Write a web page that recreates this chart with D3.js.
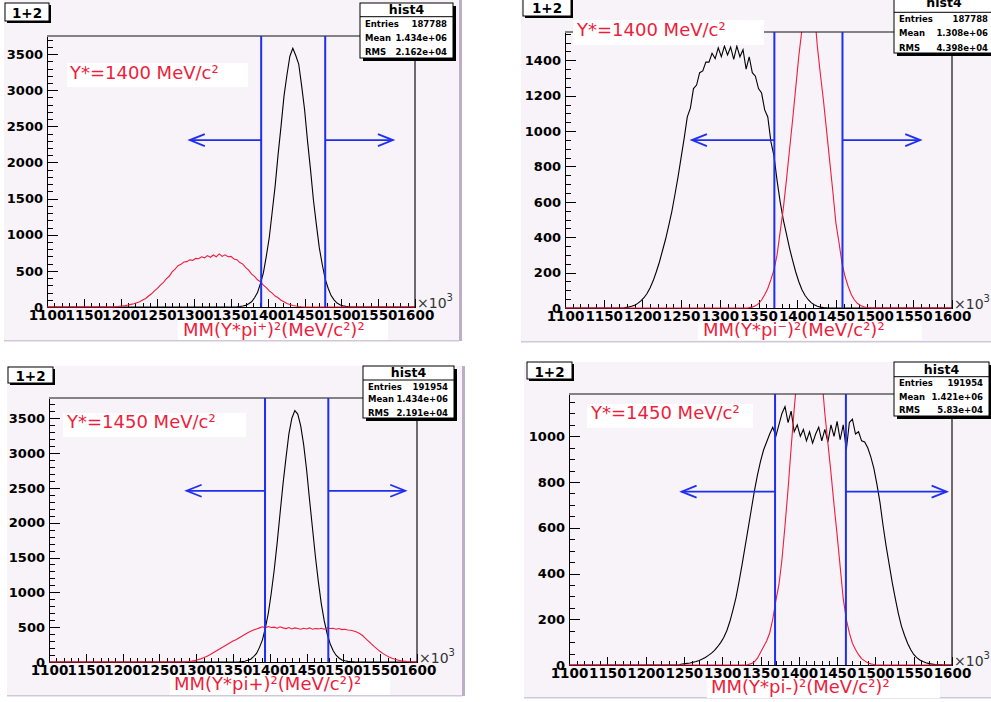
<!DOCTYPE html>
<html>
<head>
<meta charset="utf-8">
<script src="https://cdn.jsdelivr.net/npm/d3@7"></script>
<style>
    body { margin: 0; background: #ffffff; }
    svg { display: block; }
    .ylab text { font: bold 13px "DejaVu Sans", sans-serif; fill: #000; }
    .xlab text { font: bold 13.5px "DejaVu Sans", sans-serif; fill: #000; }
</style>
</head>
<body>
<svg width="991" height="702"></svg>
<script>
// histogram contents, 4 unit (x10^3) bins, zero outside the listed range
const binWidth = 4;
const xTickLabels = ["1100", "1150", "1200", "1250", "1300", "1350", "1400", "1450", "1500", "1550", "1600"];
const yMax = [3750, 1560, 3790, 1185];
const yMajorStep = [500, 200, 500, 200];
const yMinorStep = [100, 50, 100, 50];

const blackStart = [1352, 1176, 1352, 1244];
const redStart = [1188, 1336, 1284, 1332];

const p1Black = [1, 3, 6, 13, 22, 44, 72, 128, 200, 325, 472, 705, 962, 1318, 1676, 2112, 2503, 2918, 3210, 3470,
    3580, 3480, 3362, 3060, 2730, 2296, 1905, 1480, 1140, 818, 588, 386, 260, 158, 99, 55, 32, 16, 9, 4, 1];
const p1Red = [2, 4, 9, 14, 19, 27, 36, 44, 60, 73, 96, 118, 152, 183, 224, 257, 304, 336, 390, 425,
    486, 524, 572, 590, 622, 628, 652, 645, 672, 668, 695, 680, 712, 688, 720, 695, 735, 700, 722, 695,
    700, 664, 655, 615, 594, 546, 510, 455, 424, 376, 348, 302, 268, 222, 193, 152, 127, 93, 72, 48,
    36, 21, 13, 6, 3, 1];
const p2Black = [2, 5, 10, 16, 26, 40, 58, 82, 115, 155, 205, 260, 325, 390, 465, 545, 640, 740, 850, 960,
    1080, 1130, 1240, 1260, 1330, 1340, 1390, 1390, 1440, 1410, 1470, 1420, 1480, 1430, 1475, 1405, 1480, 1420, 1460, 1350,
    1420, 1330, 1310, 1240, 1215, 1120, 1080, 940, 860, 720, 600, 500, 420, 340, 270, 205, 150, 105, 72, 48,
    30, 18, 10, 5, 2, 1];
const p2Red = [2, 5, 12, 25, 45, 75, 110, 160, 215, 300, 430, 560, 720, 890, 1060, 1240, 1420, 1570, 1690, 1760,
    1770, 1690, 1480, 1320, 1170, 1000, 830, 660, 480, 370, 250, 175, 120, 75, 45, 25, 14, 7, 3, 1];
const p3Black = [1, 2, 5, 11, 24, 40, 78, 122, 210, 318, 490, 700, 990, 1320, 1710, 2140, 2560, 2930, 3280, 3500,
    3610, 3560, 3390, 3120, 2760, 2330, 1920, 1510, 1150, 835, 590, 400, 262, 164, 98, 58, 30, 18, 9, 4, 2];
const p3Red = [3, 7, 12, 20, 32, 45, 60, 80, 100, 125, 150, 175, 200, 225, 250, 275, 300, 320, 345, 370,
    395, 420, 440, 460, 475, 490, 505, 490, 510, 495, 500, 485, 505, 490, 480, 495, 475, 490, 480, 470,
    485, 475, 490, 470, 480, 475, 485, 470, 490, 480, 485, 470, 480, 465, 470, 460, 455, 445, 430, 410,
    380, 340, 300, 260, 220, 185, 150, 120, 95, 72, 54, 40, 28, 19, 12, 7, 4, 2];
const p4Black = [3, 5, 7, 9, 12, 15, 20, 26, 33, 42, 52, 64, 80, 98, 120, 150, 190, 240, 295, 365,
    440, 520, 600, 680, 760, 830, 890, 940, 975, 1010, 1040, 1000, 1050, 1100, 1130, 1060, 1110, 1020, 1050, 1000,
    1030, 980, 1020, 970, 1010, 1040, 980, 1030, 975, 1050, 1000, 1065, 985, 1050, 940, 1060, 1075, 1010, 1020, 980,
    975, 950, 910, 860, 790, 710, 610, 520, 440, 360, 290, 225, 170, 130, 95, 68, 46, 32, 22, 15,
    10, 6, 4, 2, 1, 1];
const p4Red = [2, 6, 14, 30, 55, 80, 105, 140, 200, 280, 350, 460, 610, 770, 950, 1120, 1270, 1420, 1530, 1600,
    1620, 1590, 1510, 1390, 1260, 1100, 970, 840, 700, 570, 430, 290, 200, 140, 95, 68, 45, 28, 18, 10, 5, 2];

const blackSeries = [p1Black, p2Black, p3Black, p4Black];
const redSeries = [p1Red, p2Red, p3Red, p4Red];

// cut lines and the arrows pointing away from them
const cuts = [[1391, 1478], [1370.5, 1458.5], [1393.5, 1479.5], [1369, 1461.5]];
const arrowEnds = [[1294, 1570], [1264, 1559], [1287, 1584], [1247, 1593]];
const arrowLevel = [2310, 949, 2458, 758];

const entries = ["187788", "187788", "191954", "191954"];
const means = ["1.434e+06", "1.308e+06", "1.434e+06", "1.421e+06"];
const rmsValues = ["2.162e+04", "4.398e+04", "2.191e+04", "5.83e+04"];
const massLabels = ["Y*=1400 MeV/c\u00b2", "Y*=1400 MeV/c\u00b2", "Y*=1450 MeV/c\u00b2", "Y*=1450 MeV/c\u00b2"];
const axisTitles = ["MM(Y*pi\u207a)\u00b2(MeV/c\u00b2)\u00b2", "MM(Y*pi\u207b)\u00b2(MeV/c\u00b2)\u00b2",
    "MM(Y*pi+)\u00b2(MeV/c\u00b2)\u00b2", "MM(Y*pi-)\u00b2(MeV/c\u00b2)\u00b2"];

// where each pad sits on the page
const pads = [
    {
        bg: {x: 4, y: 0, w: 455, h: 340},
        frame: {left: 47, right: 415, top: 36, bottom: 307},
        badge: {x: 5, y: 3, w: 44, h: 18, ty: 17.5},
        stats: {x: 360, y: 3, w: 93, h: 55, sep: 16.7, ty: 14, rows: [27.3, 40.7, 54.7]},
        label: {x: 67, y: 63, w: 181, h: 24, tx: 70, ty: 79},
        xtitle: {x: 178, y: 320, w: 210, h: 20, tx: 183, ty: 336}
    },
    {
        bg: {x: 521, y: 0, w: 475, h: 341},
        frame: {left: 565, right: 952, top: 32, bottom: 308},
        badge: {x: 523, y: -4, w: 48, h: 20, ty: 12.5},
        stats: {x: 894, y: -6, w: 100, h: 59, sep: 12.3, ty: 7, rows: [22.3, 36.3, 50.7]},
        label: {x: 573, y: 20, w: 191, h: 25, tx: 577, ty: 36},
        xtitle: {x: 698, y: 322, w: 224, h: 18, tx: 703, ty: 336}
    },
    {
        bg: {x: 7, y: 366, w: 455, h: 329},
        frame: {left: 49, right: 417, top: 398, bottom: 662},
        badge: {x: 8, y: 367, w: 45, h: 16, ty: 380.5},
        stats: {x: 363, y: 366, w: 91, h: 52, sep: 380, ty: 377, rows: [389.7, 402.3, 415.5]},
        label: {x: 63, y: 413, w: 183, h: 24, tx: 67, ty: 428},
        xtitle: {x: 170, y: 675, w: 220, h: 20, tx: 174, ty: 690}
    },
    {
        bg: {x: 524, y: 362, w: 472, h: 335},
        frame: {left: 569, right: 952, top: 394, bottom: 665},
        badge: {x: 527, y: 362, w: 45, h: 17, ty: 376.5},
        stats: {x: 894, y: 362, w: 95, h: 54, sep: 376.7, ty: 374, rows: [386.3, 399.7, 413]},
        label: {x: 587, y: 404, w: 166, h: 24, tx: 591, ty: 419},
        xtitle: {x: 707, y: 678, w: 233, h: 20, tx: 711, ty: 693}
    }
];

const red = "#ee1d3c";
const blue = "#1f2fee";
const padColor = "#f7f3f8";
const font = "'DejaVu Sans', sans-serif";

let svg = d3.select("svg");

pads.forEach((pad, i) => drawPad(pad, i));

function histPoints(start, values) {
    // zero baseline over the whole range, one point per bin centre
    let pts = [[1100, 0], [start, 0]];
    values.forEach((v, k) => pts.push([start + (k + 0.5) * binWidth, v]));
    pts.push([start + values.length * binWidth, 0]);
    pts.push([1600, 0]);
    return pts;
}

function drawPad(pad, i) {
    const f = pad.frame;
    const g = svg.append("g");
    const x = d3.scaleLinear().domain([1100, 1600]).range([f.left, f.right]);
    const y = d3.scaleLinear().domain([0, yMax[i]]).range([f.bottom, f.top]);

    // pad background with its darker right and bottom edges
    g.append("rect").attr("x", pad.bg.x).attr("y", pad.bg.y)
        .attr("width", pad.bg.w).attr("height", pad.bg.h).attr("fill", padColor);
    g.append("rect").attr("x", pad.bg.x + pad.bg.w).attr("y", pad.bg.y)
        .attr("width", 3).attr("height", pad.bg.h + 1).attr("fill", "#bcaec4");
    g.append("rect").attr("x", pad.bg.x).attr("y", pad.bg.y + pad.bg.h)
        .attr("width", pad.bg.w).attr("height", 1.5).attr("fill", "#d2c9d8");

    // y axis: labelled major ticks, then the minor ones
    g.append("g").attr("class", "ylab").attr("transform", `translate(${f.left},0)`)
        .call(d3.axisLeft(y)
            .tickValues(d3.range(0, yMax[i], yMajorStep[i]))
            .tickFormat(d3.format("d"))
            .tickSizeInner(-11).tickSizeOuter(0).tickPadding(4));
    g.append("g").attr("transform", `translate(${f.left},0)`)
        .call(d3.axisLeft(y)
            .tickValues(d3.range(0, yMax[i], yMinorStep[i]).filter(v => v % yMajorStep[i] !== 0))
            .tickFormat("").tickSizeInner(-6).tickSizeOuter(0))
        .call(a => a.select(".domain").remove());

    g.append("g").attr("class", "xlab").attr("transform", `translate(0,${f.bottom})`)
        .call(d3.axisBottom(x)
            .tickValues(d3.range(1100, 1601, 50))
            .tickFormat((d, k) => xTickLabels[k])
            .tickSizeInner(-8).tickSizeOuter(0).tickPadding(3.6));
    g.append("g").attr("transform", `translate(0,${f.bottom})`)
        .call(d3.axisBottom(x)
            .tickValues(d3.range(1100, 1601, 10).filter(v => v % 50 !== 0))
            .tickFormat("").tickSizeInner(-4).tickSizeOuter(0))
        .call(a => a.select(".domain").remove());

    g.selectAll(".tick line, .domain").attr("stroke", "#000").attr("shape-rendering", "crispEdges");

    // histograms, clipped to the frame so the tall red peak is cut at the top
    const clipId = "clip" + i;
    g.append("clipPath").attr("id", clipId).append("rect")
        .attr("x", f.left).attr("y", f.top).attr("width", f.right - f.left).attr("height", f.bottom - f.top + 1);
    const line = d3.line().x(d => x(d[0])).y(d => y(d[1]));
    const hists = g.append("g").attr("clip-path", `url(#${clipId})`);
    hists.append("path").attr("d", line(histPoints(blackStart[i], blackSeries[i])))
        .attr("fill", "none").attr("stroke", "#000").attr("stroke-width", 1.1);
    hists.append("path").attr("d", line(histPoints(redStart[i], redSeries[i])))
        .attr("fill", "none").attr("stroke", red).attr("stroke-width", 1.1);

    // top and right sides of the frame
    g.append("path")
        .attr("d", `M${f.left},${f.top}H${f.right}V${f.bottom}`)
        .attr("fill", "none").attr("stroke", "#111").attr("stroke-width", 1.2);

    // cut lines with arrows
    cuts[i].forEach((c, k) => {
        g.append("line").attr("x1", x(c)).attr("x2", x(c)).attr("y1", f.top).attr("y2", f.bottom)
            .attr("stroke", blue).attr("stroke-width", 2);
        const end = x(arrowEnds[i][k]);
        const ay = y(arrowLevel[i]);
        const dir = k === 0 ? 1 : -1;
        g.append("line").attr("x1", x(c)).attr("x2", end).attr("y1", ay).attr("y2", ay)
            .attr("stroke", blue).attr("stroke-width", 1.8);
        g.append("path")
            .attr("d", `M${end + dir * 15},${ay - 6}L${end},${ay}L${end + dir * 15},${ay + 6}`)
            .attr("fill", "none").attr("stroke", blue).attr("stroke-width", 1.8);
    });

    // x10^3 exponent next to the axis end
    const expo = g.append("text").attr("x", f.right + 2).attr("y", f.bottom + 1)
        .attr("font-family", font).attr("font-size", 14).attr("fill", "#333").text("\u00d710");
    expo.append("tspan").attr("dy", -7).attr("font-size", 10).text("3");

    // mass label and axis title on white boxes
    g.append("rect").attr("x", pad.label.x).attr("y", pad.label.y)
        .attr("width", pad.label.w).attr("height", pad.label.h).attr("fill", "#fff");
    g.append("text").attr("x", pad.label.tx).attr("y", pad.label.ty)
        .attr("font-family", font).attr("font-size", 18).attr("fill", red).text(massLabels[i]);
    g.append("rect").attr("x", pad.xtitle.x).attr("y", pad.xtitle.y)
        .attr("width", pad.xtitle.w).attr("height", pad.xtitle.h).attr("fill", "#fff");
    g.append("text").attr("x", pad.xtitle.tx).attr("y", pad.xtitle.ty)
        .attr("font-family", font).attr("font-size", 18).attr("fill", red).text(axisTitles[i]);

    // stats box
    const s = pad.stats;
    g.append("rect").attr("x", s.x + 3).attr("y", s.y + 3).attr("width", s.w).attr("height", s.h).attr("fill", "#000");
    g.append("rect").attr("x", s.x).attr("y", s.y).attr("width", s.w).attr("height", s.h)
        .attr("fill", "#fff").attr("stroke", "#000").attr("stroke-width", 1);
    g.append("line").attr("x1", s.x).attr("x2", s.x + s.w).attr("y1", s.sep).attr("y2", s.sep)
        .attr("stroke", "#000").attr("stroke-width", 1);
    g.append("text").attr("x", s.x + s.w / 2).attr("y", s.ty).attr("text-anchor", "middle")
        .attr("font-family", font).attr("font-weight", "bold").attr("font-size", 12.5).text("hist4");
    const rows = [["Entries", entries[i]], ["Mean", means[i]], ["RMS", rmsValues[i]]];
    rows.forEach((r, k) => {
        g.append("text").attr("x", s.x + 5).attr("y", s.rows[k])
            .attr("font-family", font).attr("font-weight", "bold").attr("font-size", 8.5).text(r[0]);
        g.append("text").attr("x", s.x + s.w - 6).attr("y", s.rows[k]).attr("text-anchor", "end")
            .attr("font-family", font).attr("font-weight", "bold").attr("font-size", 8.5).text(r[1]);
    });

    // "1+2" title badge
    const b = pad.badge;
    g.append("rect").attr("x", b.x + 2).attr("y", b.y + 2).attr("width", b.w).attr("height", b.h).attr("fill", "#000");
    g.append("rect").attr("x", b.x).attr("y", b.y).attr("width", b.w).attr("height", b.h)
        .attr("fill", "#fff").attr("stroke", "#000").attr("stroke-width", 1);
    g.append("text").attr("x", b.x + b.w / 2).attr("y", b.ty).attr("text-anchor", "middle")
        .attr("font-family", font).attr("font-weight", "bold").attr("font-size", 13.5).text("1+2");
}
</script>
</body>
</html>
